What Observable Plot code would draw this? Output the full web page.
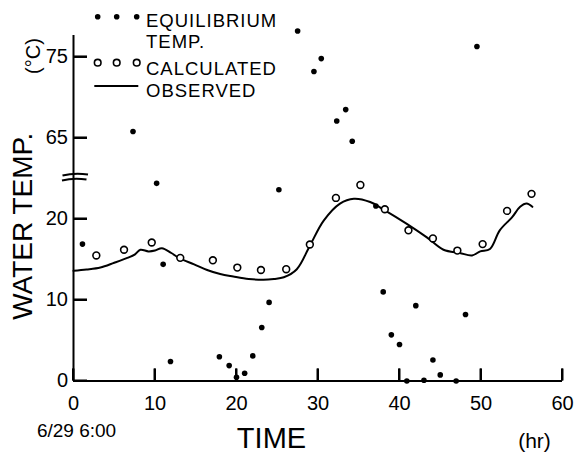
<!DOCTYPE html>
<html><head><meta charset="utf-8">
<script src="https://cdn.jsdelivr.net/npm/d3@7"></script>
<script src="https://cdn.jsdelivr.net/npm/@observablehq/plot@0.6"></script>
<style>
html,body{margin:0;padding:0;background:#fff;}
#wrap{position:relative;width:583px;height:452px;font-family:"Liberation Sans",Arial,sans-serif;}
#overlay{position:absolute;left:0;top:0;pointer-events:none;}
</style></head><body><div id="wrap"></div>
<script>
// ---- data (hours since 6/29 6:00, water temperature °C) ----
const equilHours = [1.1, 7.3, 10.2, 11.0, 11.9, 17.9, 19.1, 20.0, 21.0, 22.0, 23.1, 24.0, 25.2,
  27.5, 29.5, 30.4, 32.3, 33.4, 34.2, 37.1, 38.0, 39.0, 40.0, 40.9, 42.0, 43.0, 44.1, 45.0, 46.95, 48.1, 49.5];
const equilTemps = [16.9, 65.8, 24.4, 14.4, 2.4, 3.0, 1.9, 0.45, 0.95, 3.1, 6.6, 9.7, 23.6,
  78.2, 73.2, 74.8, 67.1, 68.5, 64.6, 21.6, 11.0, 5.7, 4.5, 0.0, 9.3, 0.1, 2.6, 0.75, 0.0, 8.2, 76.3];

const calcHours = [2.8, 6.2, 9.6, 13.1, 17.1, 20.1, 23.0, 26.1, 29.0, 32.2, 35.2, 38.2, 41.1, 44.1, 47.1, 50.2, 53.2, 56.2];
const calcTemps = [15.5, 16.2, 17.1, 15.2, 14.9, 14.0, 13.7, 13.8, 16.85, 22.6, 24.2, 21.2, 18.6, 17.6, 16.1, 16.9, 21.0, 23.1];

const obsHours = [0, 1.6, 3.3, 5.0, 6.6, 7.5, 8.2, 9.2, 10.0, 10.85, 12.0, 13.1, 14.8, 16.4, 18.0, 19.6, 21.5, 23.3, 24.6,
  25.8, 27.4, 29.0, 30.7, 32.7, 34.4, 36.4, 38.0, 40.9, 43.4, 45.4, 47.4, 48.9, 49.9, 51.1, 52.3, 53.8, 54.8, 55.6, 56.3];
const obsTemps = [13.6, 13.75, 14.0, 14.6, 15.2, 15.6, 16.2, 16.0, 16.1, 16.4, 15.8, 15.1, 14.4, 13.7, 13.2, 12.9, 12.6, 12.5, 12.6,
  12.8, 13.8, 16.7, 19.8, 21.9, 22.5, 22.1, 21.2, 19.4, 17.7, 16.2, 15.8, 15.5, 16.0, 16.3, 18.6, 20.2, 21.5, 21.9, 21.5];

const xTicks = [0, 10, 20, 30, 40, 50, 60];
const yTicks = [0, 10, 20, 65, 75];
const legendLabels = ["EQUILIBRIUM", "TEMP.", "CALCULATED", "OBSERVED"];

// ---- broken axis: values from 60 upward are shifted down by 35 ----
const BREAK_SHIFT = 35;
const yT = v => v >= 60 ? v - BREAK_SHIFT : v;

const rows = (hs, ts) => hs.map((h, i) => ({h, t: ts[i]}));
const equilibrium = rows(equilHours, equilTemps);
const calculated = rows(calcHours, calcTemps);
const observed = rows(obsHours, obsTemps);

// inward tick lengths expressed in data units (12px on x axis, 14px on y axis)
const X_TICK_LEN = 12 / 8.1;
const Y_TICK_LEN = 14 / 8.15;

const plot = Plot.plot({
  width: 583, height: 452,
  marginLeft: 73, marginRight: 21, marginTop: 35, marginBottom: 71.5,
  style: {fontFamily: "Liberation Sans, Arial, sans-serif", fontSize: "20px", background: "white", color: "black", overflow: "visible"},
  x: {domain: [0, 60]},
  y: {domain: [0, 42.65], transform: yT},
  marks: [
    Plot.axisX(xTicks, {tickSize: 0, tickPadding: 14.5, fontSize: 20, label: null}),
    Plot.axisY(yTicks, {tickSize: 0, tickPadding: 5.5, fontSize: 20, label: null}),
    Plot.line(observed, {x: "h", y: "t", curve: "catmull-rom", strokeWidth: 2, stroke: "black"}),
    Plot.dot(calculated, {x: "h", y: "t", r: 3.4, stroke: "black", strokeWidth: 1.6, fill: "white"}),
    Plot.dot(equilibrium, {x: "h", y: "t", r: 2.8, fill: "black"}),
    Plot.text(["WATER TEMP."], {text: d => d, frameAnchor: "left", textAnchor: "middle", rotate: -90, dx: -50, dy: 18, fontSize: 28}),
    Plot.text(["(°C)"], {text: d => d, frameAnchor: "top-left", rotate: -90, dx: -48, dy: 20.5, fontSize: 20, textAnchor: "middle"}),
    Plot.text(["TIME"], {text: d => d, frameAnchor: "bottom", lineAnchor: "bottom", dx: -46.5, dy: 66.5, fontSize: 29}),
    Plot.text(["(hr)"], {text: d => d, frameAnchor: "bottom-right", lineAnchor: "bottom", textAnchor: "middle", dx: -28, dy: 66.5, fontSize: 21}),
    Plot.text(["6/29 6:00"], {text: d => d, frameAnchor: "bottom-left", lineAnchor: "bottom", textAnchor: "middle", dx: 3, dy: 55.5, fontSize: 19}),
    // axes lines and inward ticks, drawn last
    Plot.ruleX([0], {strokeWidth: 2, stroke: "black"}),
    Plot.ruleY([0], {strokeWidth: 2, stroke: "black"}),
    Plot.ruleX(xTicks, {x: d => d, y1: 0, y2: X_TICK_LEN, strokeWidth: 2, stroke: "black"}),
    Plot.ruleY(yTicks, {y: d => d, x1: 0, x2: Y_TICK_LEN, strokeWidth: 2, stroke: "black"})
  ]
});
document.getElementById("wrap").appendChild(plot);

// ---- legend, axis-break marks and tick backup (overlay) ----
const sx = plot.scale("x"), sy = plot.scale("y");
const svg = d3.select("#wrap").append("svg").attr("id", "overlay")
  .attr("width", 583).attr("height", 452)
  .style("font-family", "Liberation Sans, Arial, sans-serif");

const x0 = sx.apply(0), y0 = sy.apply(0);
svg.selectAll(".xt").data(xTicks).join("line").attr("class", "xt")
  .attr("x1", d => sx.apply(d)).attr("x2", d => sx.apply(d)).attr("y1", y0).attr("y2", y0 - 12)
  .attr("stroke", "black").attr("stroke-width", 2);
svg.selectAll(".yt").data(yTicks).join("line").attr("class", "yt")
  .attr("y1", d => sy.apply(yT(d))).attr("y2", d => sy.apply(yT(d))).attr("x1", x0).attr("x2", x0 + 14)
  .attr("stroke", "black").attr("stroke-width", 2);

// axis break at 25 | 60
const yb = sy.apply(25);
svg.append("path").attr("d", `M${x0 - 10.5},${yb - 2.5} Q${x0 + 1.5},${yb - 5.5} ${x0 + 15},${yb - 3.5}`).attr("stroke", "black").attr("stroke-width", 2).attr("fill", "none");
svg.append("path").attr("d", `M${x0 - 11},${yb + 2.5} Q${x0 + 0.5},${yb - 0.5} ${x0 + 13.5},${yb + 1.5}`).attr("stroke", "black").attr("stroke-width", 2).attr("fill", "none");

const symX = [97.7, 116.7, 136.7];
svg.selectAll(".eq").data(symX).join("circle").attr("class", "eq").attr("cx", d => d).attr("cy", 16.7).attr("r", 2.8).attr("fill", "black");
svg.selectAll(".ca").data(symX).join("circle").attr("class", "ca").attr("cx", d => d).attr("cy", 62.7).attr("r", 3.3)
  .attr("fill", "white").attr("stroke", "black").attr("stroke-width", 1.6);
svg.append("line").attr("x1", 94.3).attr("x2", 138.3).attr("y1", 86).attr("y2", 86).attr("stroke", "black").attr("stroke-width", 2);
const legY = [26.5, 47.5, 75, 97];
svg.selectAll(".lg").data(legendLabels).join("text").attr("class", "lg")
  .attr("x", 146).attr("y", (d, i) => legY[i]).attr("font-size", 18.5).attr("letter-spacing", 1)
  .attr("fill", "black").text(d => d);
</script></body></html>
